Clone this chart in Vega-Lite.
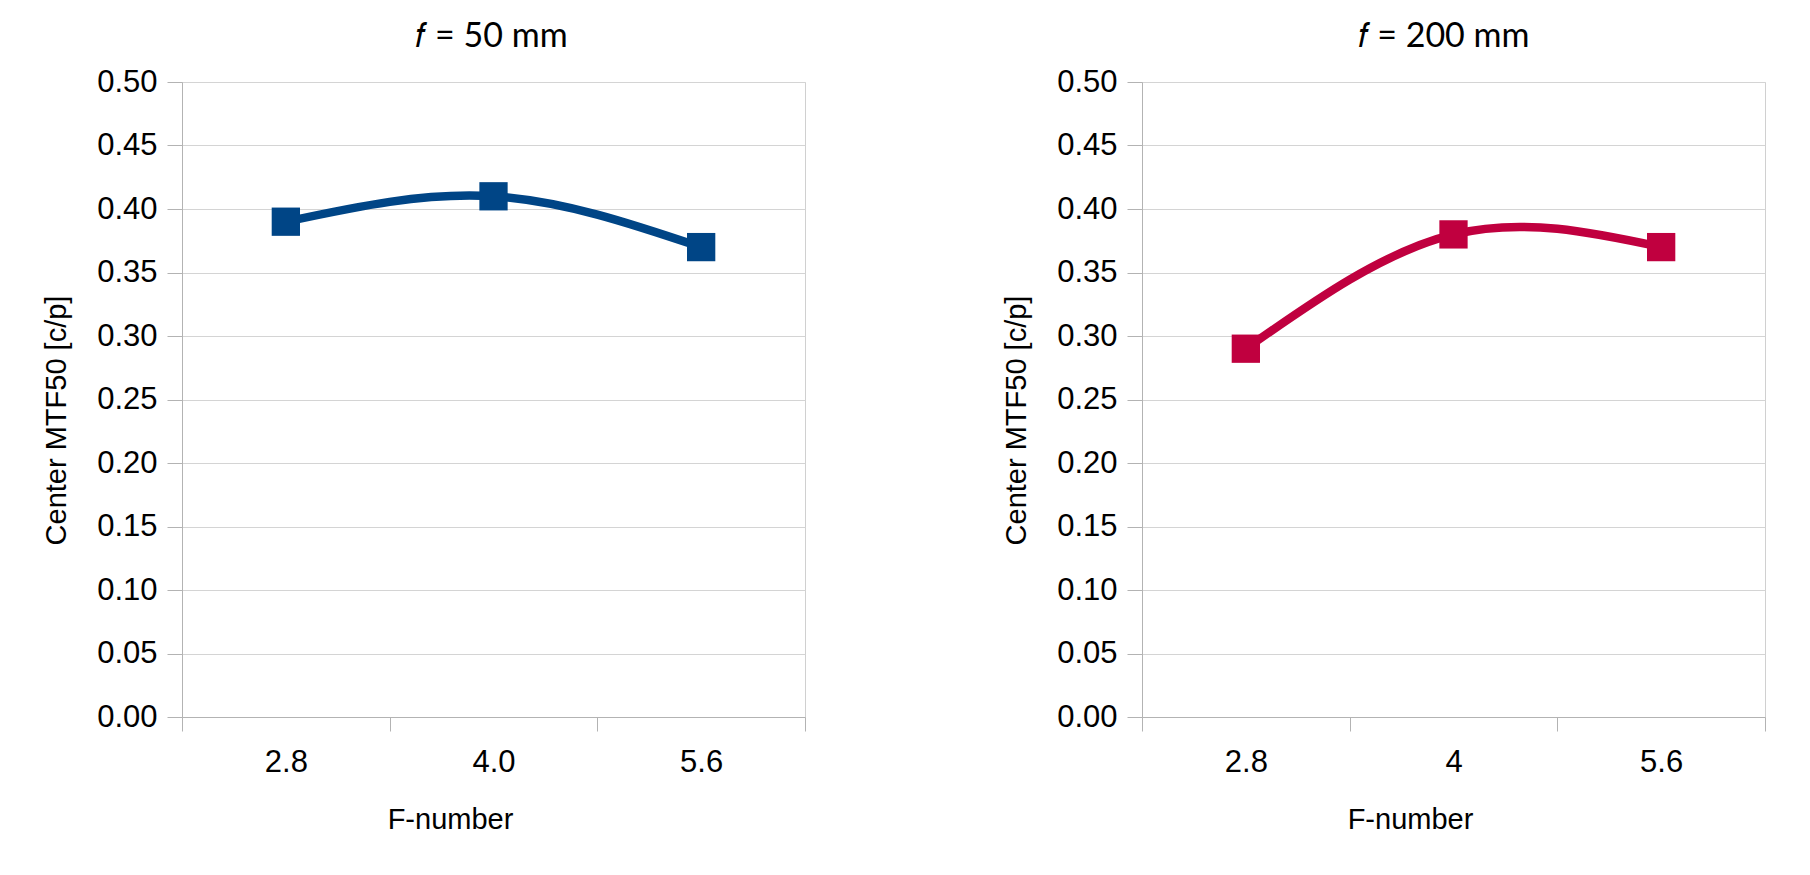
{
  "$schema": "https://vega.github.io/schema/vega-lite/v6.json",
  "background": "white",
  "padding": {"left": 42, "top": 19, "right": 5, "bottom": 5},
  "bounds": "flush",
  "spacing": 337,
  "config": {
    "font": "Liberation Sans",
    "view": {"stroke": "#d0d0d0", "strokeWidth": 1},
    "axisX": {
      "labelAngle": 0, "labelFontSize": 31, "labelColor": "#000000", "labelPadding": 16,
      "tickSize": 14, "tickColor": "#b3b3b3", "domainColor": "#b3b3b3",
      "titleFontSize": 29, "titleFontWeight": "normal", "titleColor": "#000000", "titlePadding": 28,
      "grid": false, "tickBand": "extent", "titleX": 268
    },
    "axisY": {
      "labelFontSize": 31, "labelColor": "#000000", "labelPadding": 10,
      "tickSize": 15, "tickColor": "#b3b3b3", "domainColor": "#b3b3b3",
      "gridColor": "#d4d4d4", "grid": true,
      "titleFontSize": 29, "titleFontWeight": "normal", "titleColor": "#000000", "titlePadding": 25,
      "titleY": 338
    }
  },
  "datasets": {
    "f50": [
      {"fnum": "2.8", "mtf": 0.39},
      {"fnum": "4.0", "mtf": 0.41},
      {"fnum": "5.6", "mtf": 0.37}
    ],
    "f200": [
      {"fnum": "2.8", "mtf": 0.29},
      {"fnum": "4", "mtf": 0.38},
      {"fnum": "5.6", "mtf": 0.37}
    ]
  },
  "hconcat": [
    {
      "width": 623, "height": 635,
      "title": {"text": "𝑓 = 50 mm", "font": "Lato", "fontSize": 34, "fontWeight": "normal", "color": "#000000", "frame": "group", "offset": 12, "anchor": "middle", "dx": -2},
      "data": {"name": "f50"},
      "encoding": {
        "x": {"field": "fnum", "type": "ordinal", "sort": null, "bandPosition": 0.5,
              "scale": {"type": "band", "paddingInner": 0, "paddingOuter": 0},
              "axis": {"title": "F-number"}},
        "y": {"field": "mtf", "type": "quantitative", "scale": {"domain": [0, 0.5]},
              "axis": {"title": "Center MTF50 [c/p]", "format": ".2f", "values": [0, 0.05, 0.1, 0.15, 0.2, 0.25, 0.3, 0.35, 0.4, 0.45, 0.5]}}
      },
      "layer": [
        {"mark": {"type": "line", "interpolate": "natural", "color": "#004586", "strokeWidth": 8.5}},
        {"mark": {"type": "point", "shape": "square", "filled": true, "size": 800, "color": "#004586", "opacity": 1}}
      ]
    },
    {
      "width": 623, "height": 635,
      "title": {"text": "𝑓 = 200 mm", "font": "Lato", "fontSize": 34, "fontWeight": "normal", "color": "#000000", "frame": "group", "offset": 12, "anchor": "middle", "dx": -10},
      "data": {"name": "f200"},
      "encoding": {
        "x": {"field": "fnum", "type": "ordinal", "sort": null, "bandPosition": 0.5,
              "scale": {"type": "band", "paddingInner": 0, "paddingOuter": 0},
              "axis": {"title": "F-number"}},
        "y": {"field": "mtf", "type": "quantitative", "scale": {"domain": [0, 0.5]},
              "axis": {"title": "Center MTF50 [c/p]", "format": ".2f", "values": [0, 0.05, 0.1, 0.15, 0.2, 0.25, 0.3, 0.35, 0.4, 0.45, 0.5]}}
      },
      "layer": [
        {"mark": {"type": "line", "interpolate": "natural", "color": "#c0003f", "strokeWidth": 8.5}},
        {"mark": {"type": "point", "shape": "square", "filled": true, "size": 800, "color": "#c0003f", "opacity": 1}}
      ]
    }
  ]
}
